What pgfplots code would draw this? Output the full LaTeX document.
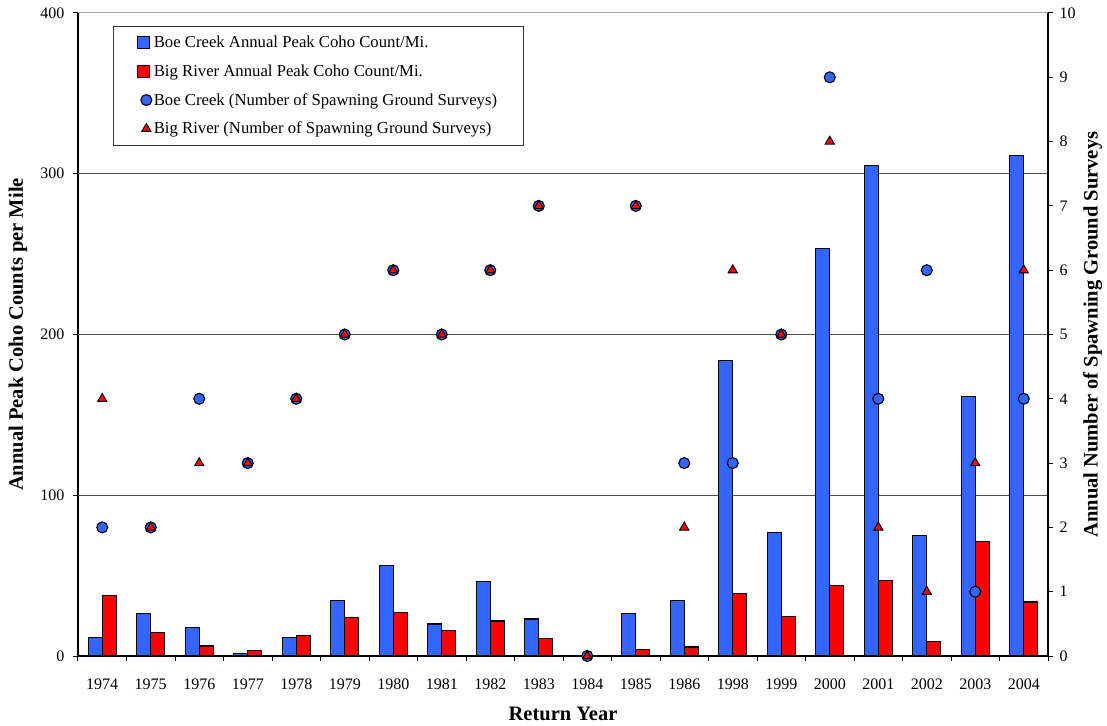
\documentclass[border=0pt]{standalone}
\usepackage{fontspec}
\setmainfont{Liberation Serif}
\usepackage{pgfplots}
\usepackage{pgfplotstable}
\pgfplotsset{compat=1.18}

\definecolor{boeblue}{RGB}{51,102,255}
\definecolor{bigred}{RGB}{255,0,0}
\definecolor{gridgray}{RGB}{80,80,80}
\definecolor{topgray}{RGB}{165,165,165}

% counts per mile (left axis) and number of surveys (right axis)
\pgfplotstableread{
x year boe big bs rs
0 1974 11.6 37.5 2 4
1 1975 26.5 14.7 2 2
2 1976 18.0 6.2 4 3
3 1977 1.5 3.5 3 3
4 1978 11.6 12.6 4 4
5 1979 34.8 23.8 5 5
6 1980 56.4 26.9 6 6
7 1981 19.9 15.6 5 5
8 1982 46.5 21.8 6 6
9 1983 23.0 11.0 7 7
10 1984 0 0 0 0
11 1985 26.5 4.2 7 7
12 1986 34.8 5.6 3 2
13 1998 183.7 38.8 3 6
14 1999 76.7 24.3 5 5
15 2000 253.6 43.7 9 8
16 2001 305.0 46.7 4 2
17 2002 74.8 8.9 6 1
18 2003 161.7 71.1 1 3
19 2004 311.1 33.6 4 6
}\coho

\pgfplotsset{
  base/.style={
    scale only axis, width=970pt, height=643pt,
    xmin=-0.5, xmax=19.5,
    tick align=outside,
    major tick length=5pt,
    minor tick length=5pt,
    tick style={black, line width=1pt},
    axis line style={black, line width=1.3pt},
    tick label style={font=\fontsize{16}{18}\selectfont},
    label style={font=\bfseries\fontsize{20.5}{23}\selectfont},
    /pgf/number format/assume math mode=true,
  },
  barlegend/.style={legend image code/.code={
    \draw[#1] (0pt,-6pt) rectangle (12pt,6pt);}},
}

\begin{document}
\begin{tikzpicture}
\begin{axis}[base,
  ybar=0pt, bar width=14pt,
  ymin=0, ymax=400, ytick={0,100,...,400},
  extra y ticks={100,200,300}, extra y tick labels={},
  extra y tick style={grid=major, major tick length=0pt},
  grid style={gridgray, line width=0.8pt},
  axis x line*=bottom, axis y line*=left,
  xtick={0,...,19},
  xticklabels from table={\coho}{year},
  major x tick style={draw=none},
  minor xtick={-0.5,0.5,...,19.5},
  xticklabel style={yshift=-14pt},
  yticklabel style={xshift=-5pt},
  xlabel={Return Year},
  ylabel={Annual Peak Coho Counts per Mile},
  xlabel style={at={(axis description cs:0.5,-0.090)}, anchor=center},
  ylabel style={at={(axis description cs:-0.062,0.5)}, anchor=center},
]
\addplot[fill=boeblue, draw=black, line width=1.1pt] table[x=x, y=boe]{\coho};
\addplot[fill=bigred, draw=black, line width=1.1pt] table[x=x, y=big]{\coho};
\coordinate (bl) at (rel axis cs:0,0);
\coordinate (tr) at (rel axis cs:1,1);
\end{axis}

\begin{axis}[base,
  ymin=0, ymax=10, ytick={0,1,...,10},
  axis y line*=right, axis x line=none,
  yticklabel style={xshift=3pt},
  ylabel={Annual Number of Spawning Ground Surveys},
  ylabel style={at={(axis description cs:1.046,0.5)}, anchor=center},
  legend style={at={(axis description cs:0.036,0.98)}, anchor=north west,
    draw=black!80, line width=0.8pt, font=\fontsize{16.7}{19}\selectfont,
    cells={anchor=west}, row sep=11.5pt, inner xsep=24pt, inner ysep=8pt},
]
\draw[topgray, line width=1pt] (rel axis cs:0,1) -- (rel axis cs:1,1);
\addlegendimage{barlegend, fill=boeblue, draw=black, line width=1pt}
\addlegendentry{Boe Creek Annual Peak Coho Count/Mi.}
\addlegendimage{barlegend, fill=bigred, draw=black, line width=1pt}
\addlegendentry{Big River Annual Peak Coho Count/Mi.}
\addplot[only marks, mark=*, mark size=5.5pt,
  mark options={fill=boeblue, draw=black, line width=1.1pt}]
  table[x=x, y=bs]{\coho};
\addlegendentry{Boe Creek (Number of Spawning Ground Surveys)}
\addplot[only marks, mark=triangle*, mark size=5.3pt,
  mark options={fill=bigred, draw=black, line width=1pt}]
  table[x=x, y=rs]{\coho};
\addlegendentry{Big River (Number of Spawning Ground Surveys)}
\end{axis}
\pgfresetboundingbox
\path ([shift={(-78pt,-69pt)}]bl) rectangle ([shift={(59pt,13pt)}]tr);
\end{tikzpicture}
\end{document}
